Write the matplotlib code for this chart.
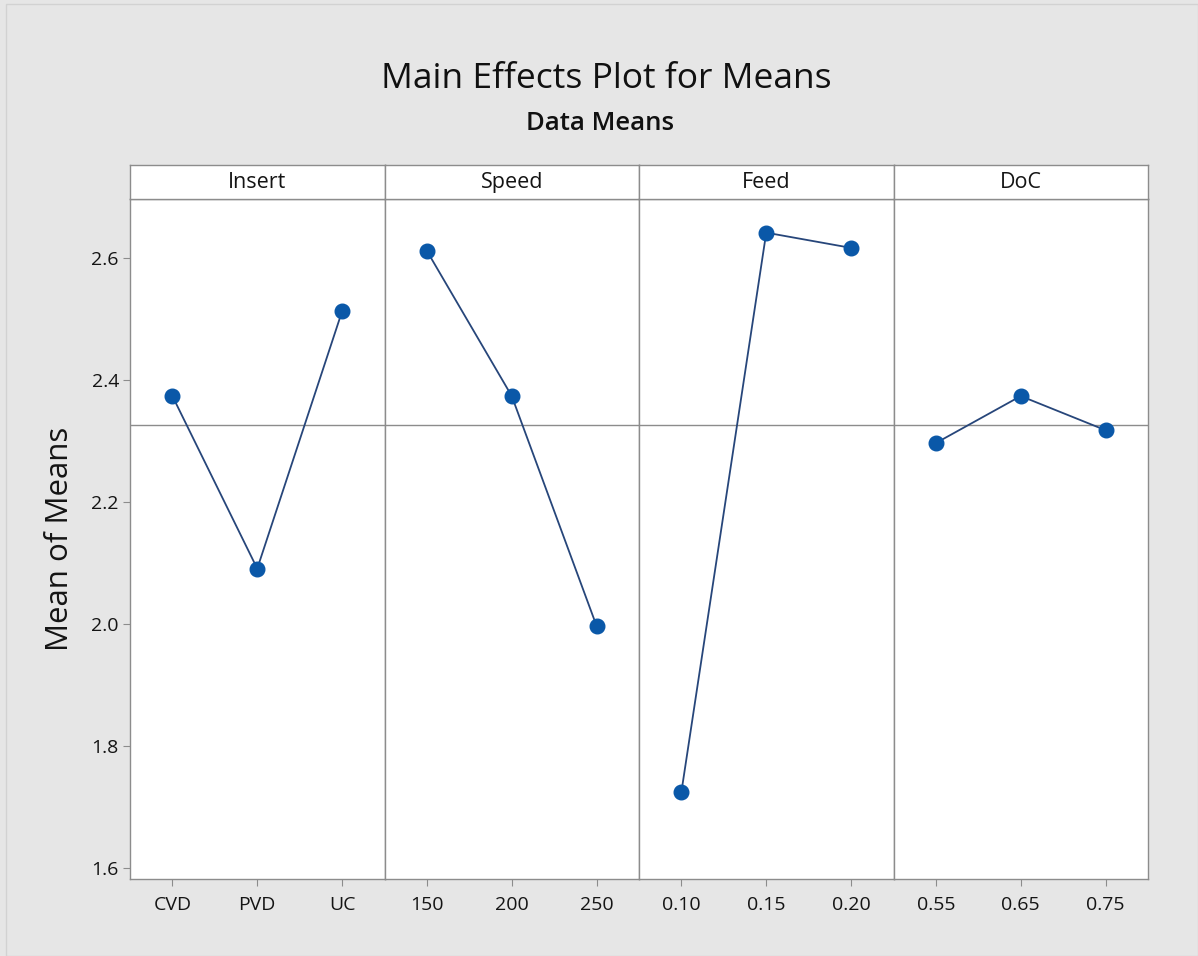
import matplotlib
matplotlib.use("Agg")
import matplotlib.pyplot as plt
from matplotlib.patches import Rectangle
from matplotlib import font_manager

# ---- data ----
factors = ["Insert", "Speed", "Feed", "DoC"]
insert_levels = ["CVD", "PVD", "UC"]
speed_levels = ["150", "200", "250"]
feed_levels = ["0.10", "0.15", "0.20"]
doc_levels = ["0.55", "0.65", "0.75"]
insert_means = [2.374, 2.091, 2.513]
speed_means = [2.612, 2.374, 1.997]
feed_means = [1.725, 2.642, 2.617]
doc_means = [2.297, 2.374, 2.318]
grand_mean = 2.326
y_ticks = [1.6, 1.8, 2.0, 2.2, 2.4, 2.6]

levels = [insert_levels, speed_levels, feed_levels, doc_levels]
means = [insert_means, speed_means, feed_means, doc_means]

available = {f.name for f in font_manager.fontManager.ttflist}
def pick(*names):
    for n in names:
        if n in available:
            return n
    return "DejaVu Sans"
cond = pick("Liberation Sans Narrow", "Open Sans", "Noto Sans")
reg = pick("Open Sans", "Noto Sans", "DejaVu Sans")

W, H = 1198, 956
fig = plt.figure(figsize=(W / 100, H / 100), dpi=100)
fig.patch.set_facecolor("#e6e6e6")

# subtle outer frame
fig.add_artist(Rectangle((6 / W, 0), 1 - 6 / W, 1 - 4 / H, transform=fig.transFigure,
                         fill=False, edgecolor="#d2d2d2", linewidth=1.0))

left, right = 130, 1148
top_plot, bottom_plot = 198.5, 879
strip_top = 165
pw = (right - left) / 4

def fx(px):
    return px / W

def fy(py):
    return 1 - py / H

edge = "#8c8c8c"
txt = "#141414"
ymin, ymax = 1.582, 2.698

for i, (fac, lv, mv) in enumerate(zip(factors, levels, means)):
    x0 = left + i * pw
    ax = fig.add_axes([fx(x0), fy(bottom_plot), fx(pw), (bottom_plot - top_plot) / H])
    ax.set_facecolor("white")
    xs = list(range(1, len(lv) + 1))
    ax.axhline(grand_mean, color="#8c8c8c", linewidth=1.0, zorder=1)
    ax.plot(xs, mv, color="#27467a", linewidth=1.3, zorder=2)
    ax.plot(xs, mv, linestyle="none", marker="o", markersize=10.5,
            color="#0a58a8", markeredgecolor="#0a58a8", zorder=3)
    ax.set_xlim(0.5, len(lv) + 0.5)
    ax.set_ylim(ymin, ymax)
    ax.set_xticks(xs)
    ax.set_xticklabels(lv, fontsize=14, family=cond, color=txt, weight="medium")
    ax.tick_params(axis="x", length=5, color=edge, pad=7)
    if i == 0:
        ax.set_yticks(y_ticks)
        ax.set_yticklabels([f"{v:.1f}" for v in y_ticks], fontsize=14, family=cond,
                           color=txt, weight="medium")
        ax.tick_params(axis="y", length=5, color=edge, pad=3)
        ax.set_ylabel("Mean of Means", fontsize=22.5, family=reg, color=txt,
                      labelpad=12)
    else:
        ax.set_yticks([])
    for s in ax.spines.values():
        s.set_color(edge)
        s.set_linewidth(1.0)

    # strip header
    sax = fig.add_axes([fx(x0), fy(top_plot), fx(pw), (top_plot - strip_top) / H])
    sax.set_facecolor("white")
    sax.set_xticks([])
    sax.set_yticks([])
    for s in sax.spines.values():
        s.set_color(edge)
        s.set_linewidth(1.0)
    sax.text(0.5, 0.47, fac, transform=sax.transAxes, ha="center", va="center",
             fontsize=15.5, family=cond, color=txt)

fig.text(fx(606), fy(79), "Main Effects Plot for Means", ha="center", va="center",
         fontsize=25.5, family=cond, color="#111111")
fig.text(fx(600), fy(123), "Data Means", ha="center", va="center",
         fontsize=18.5, family=cond, color="#111111", weight="semibold")

fig.savefig("out.png", dpi=100, facecolor=fig.get_facecolor())
